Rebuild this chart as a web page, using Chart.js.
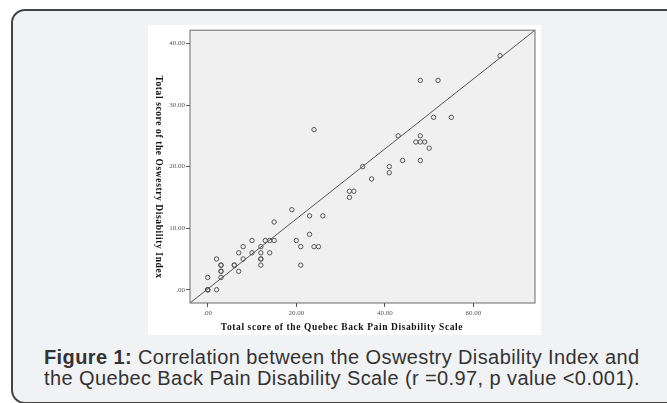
<!DOCTYPE html>
<html lang="en">
<head>
    <meta charset="UTF-8">
    <title>Figure 1</title>
    <script src="https://cdn.jsdelivr.net/npm/chart.js"></script>
    <style>
        body {
            margin: 0;
            width: 667px;
            height: 403px;
            overflow: hidden;
            background: #ffffff;
            position: relative;
        }
        .frame {
            position: absolute;
            left: 11px;
            top: 9px;
            width: 700px;
            height: 391px;
            border: 2px solid #444;
            border-radius: 14px;
            background: #f1f2f4;
        }
        .figure {
            position: absolute;
            left: 148px;
            top: 25px;
            width: 393px;
            height: 310px;
            background: #ffffff;
        }
        .caption {
            position: absolute;
            left: 44px;
            top: 347px;
            font-family: "Liberation Sans", Arial, sans-serif;
            font-size: 20px;
            letter-spacing: 0.4px;
            line-height: 21px;
            color: #333;
            white-space: nowrap;
        }
    </style>
</head>
<body>
    <div class="frame"></div>
    <div class="figure">
        <canvas id="scatterChart" width="393" height="310"></canvas>
    </div>
    <div class="caption">
        <b>Figure 1:</b> Correlation between the Oswestry Disability Index and<br>
        the Quebec Back Pain Disability Scale (r =0.97, p value &lt;0.001).
    </div>

    <script>
        // Quebec scale score (x) and Oswestry index score (y) for each patient
        const quebecScores = [66, 48, 52, 51, 55, 24, 43, 48, 47, 48, 49, 50, 44, 48, 35, 41, 41, 37,
            32, 33, 32, 19, 23, 26, 15, 23, 10, 13, 14, 15, 20, 8, 12, 21, 24, 25, 7, 10, 12, 14,
            2, 8, 12, 12, 3, 3, 6, 6, 12, 21, 3, 3, 7, 0, 3, 0, 0, 0, 2];
        const oswestryScores = [38, 34, 34, 28, 28, 26, 25, 25, 24, 24, 24, 23, 21, 21, 20, 20, 19, 18,
            16, 16, 15, 13, 12, 12, 11, 9, 8, 8, 8, 8, 8, 7, 7, 7, 7, 7, 6, 6, 6, 6,
            5, 5, 5, 5, 4, 4, 4, 4, 4, 4, 3, 3, 3, 2, 2, 0, 0, 0, 0];

        // fit line, read at the plot corners
        const fitX = [-4, 73.9];
        const fitY = [-2.15, 42.15];

        const xTicks = [0, 20, 40, 60];
        const yTicks = [0, 10, 20, 30, 40];

        const xTitle = 'Total score of the Quebec Back Pain Disability Scale';
        const yTitle = 'Total score of the Oswestry Disability Index';

        const points = quebecScores.map((x, i) => ({ x: x, y: oswestryScores[i] }));
        const fitLine = fitX.map((x, i) => ({ x: x, y: fitY[i] }));

        const fmt = v => v === 0 ? '.00' : v.toFixed(2);

        // gray plot background, frame and the two axis titles
        const spssLook = {
            id: 'spssLook',
            beforeDatasetsDraw(chart) {
                const { ctx, chartArea: a } = chart;
                ctx.save();
                ctx.fillStyle = '#f0f0f0';
                ctx.fillRect(a.left, a.top, a.right - a.left, a.bottom - a.top);
                ctx.restore();
            },
            afterDraw(chart) {
                const { ctx, chartArea: a } = chart;
                ctx.save();
                ctx.strokeStyle = '#6a6a6a';
                ctx.lineWidth = 1;
                ctx.strokeRect(a.left, a.top, a.right - a.left, a.bottom - a.top);

                ctx.fillStyle = '#111';
                ctx.font = 'bold 9.5px "Liberation Serif", serif';
                ctx.letterSpacing = '0.6px';
                ctx.textAlign = 'center';
                ctx.textBaseline = 'middle';
                ctx.fillText(xTitle, 194, 303);

                ctx.translate(10, 152);
                ctx.rotate(Math.PI / 2);
                ctx.fillText(yTitle, 0, 0);
                ctx.restore();
            }
        };

        new Chart(document.getElementById('scatterChart').getContext('2d'), {
            type: 'scatter',
            data: {
                datasets: [{
                    label: 'Patients',
                    data: points,
                    pointStyle: 'circle',
                    pointRadius: 2.2,
                    pointBorderWidth: 1,
                    borderColor: '#555',
                    backgroundColor: 'rgba(0,0,0,0)',
                    order: 1
                }, {
                    type: 'line',
                    label: 'Fit line',
                    data: fitLine,
                    borderColor: '#555',
                    borderWidth: 1,
                    pointRadius: 0,
                    fill: false,
                    order: 2
                }]
            },
            options: {
                responsive: false,
                animation: false,
                devicePixelRatio: 1,
                layout: { padding: { top: 4, right: 6, left: 0, bottom: 0 } },
                plugins: {
                    legend: { display: false },
                    tooltip: { enabled: false }
                },
                scales: {
                    x: {
                        type: 'linear',
                        min: fitX[0],
                        max: fitX[1],
                        afterBuildTicks: s => { s.ticks = xTicks.map(v => ({ value: v })); },
                        afterFit: s => { s.height = 32; },
                        border: { display: false },
                        grid: { drawOnChartArea: false, tickLength: 4, color: '#555' },
                        ticks: {
                            padding: 2,
                            color: '#555',
                            font: { family: '"Liberation Serif", serif', size: 7 },
                            callback: v => fmt(v)
                        }
                    },
                    y: {
                        type: 'linear',
                        min: fitY[0],
                        max: fitY[1],
                        afterBuildTicks: s => { s.ticks = yTicks.map(v => ({ value: v })); },
                        afterFit: s => { s.width = 42; },
                        border: { display: false },
                        grid: { drawOnChartArea: false, tickLength: 4, color: '#555' },
                        ticks: {
                            padding: 1,
                            color: '#555',
                            font: { family: '"Liberation Serif", serif', size: 7 },
                            callback: v => fmt(v)
                        }
                    }
                }
            },
            plugins: [spssLook]
        });
    </script>
</body>
</html>
